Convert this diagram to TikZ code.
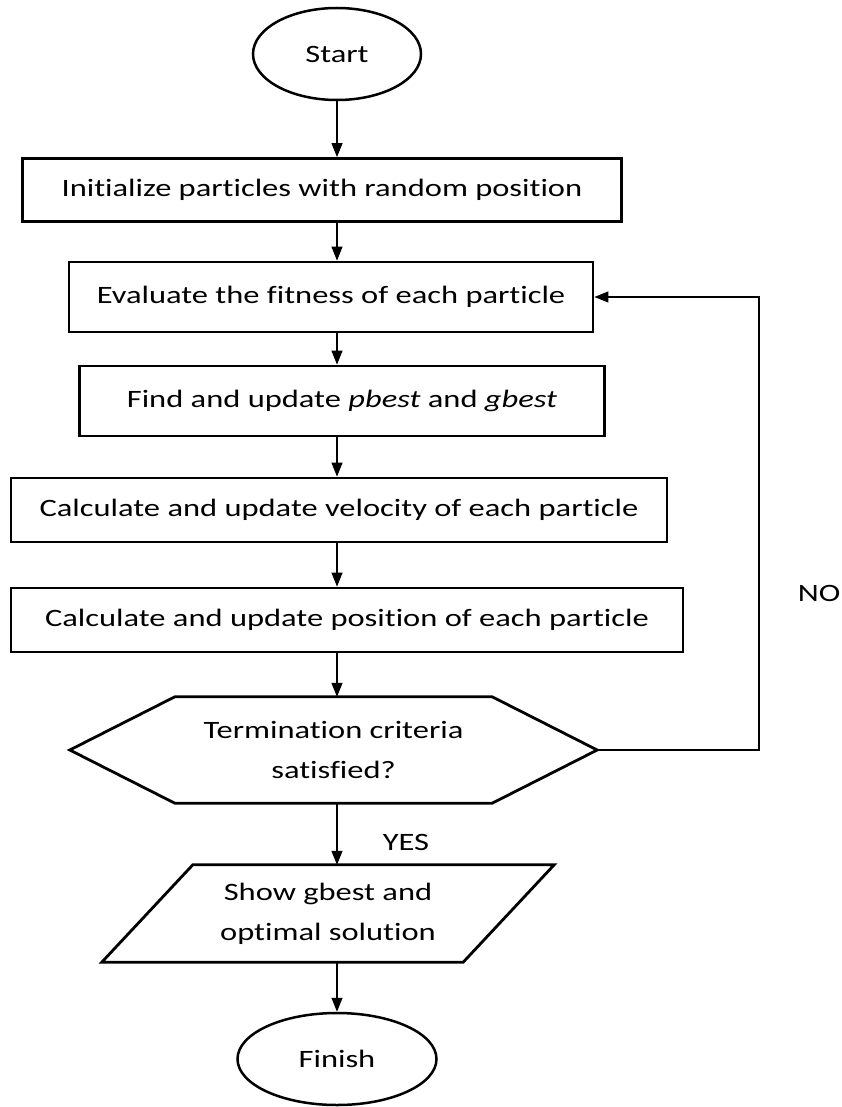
\documentclass[tikz,border=0pt]{standalone}
\usepackage{fontspec}
\setmainfont{Carlito}[FakeStretch=1.3,Ligatures=NoCommon]
\usetikzlibrary{arrows.meta,shapes.geometric}

\begin{document}
\begin{tikzpicture}[x=1pt,y=-1pt,font=\fontsize{25}{40}\selectfont]

	\tikzstyle process=[draw, line width=2.8pt, inner sep=0pt];
	\tikzstyle terminal=[draw, ellipse, line width=2.5pt, inner sep=0pt, minimum height=92pt];
	\tikzstyle flow line=[line width=1.2pt, -{Triangle[length=14pt,width=11pt]}];
	\tikzstyle outline=[line width=2.8pt, line join=miter];
	\tikzstyle two lines=[align=center, inner sep=0pt];

	\useasboundingbox (0,0) rectangle (842,1107);

	\node[terminal, minimum width=168pt] (start) at (337,54) {Start};

	\foreach \x/\y/\w/\h/\name/\txt in {322/190/599/63/init/{Initialize particles with random position},
			331/297/524/70/eval/{Evaluate the fitness of each particle},
			342/401/525/70/best/{Find and update \textit{pbest} and \textit{gbest}},
			339/510/656/64/vel/{Calculate and update velocity of each particle},
			347/620/672/64/pos/{Calculate and update position of each particle}}
		\node[process, minimum width=\w, minimum height=\h] (\name) at (\x,\y) {\txt};

	% decision
	\node[two lines, minimum width=317pt, minimum height=106pt] (check) at (333.5,750) {Termination criteria\\satisfied?};
	\coordinate (check tip) at ([xshift=105pt]check.east);
	\draw[outline] (check.north west) -- (check.north east) -- (check tip) -- (check.south east)
		-- (check.south west) -- ([xshift=-105pt]check.west) -- cycle;

	% output
	\node[two lines, minimum width=361pt, minimum height=97pt] (show) at (328,913.5) {Show gbest and\\optimal solution};
	\draw[outline] ([xshift=45.5pt]show.north west) -- ([xshift=45.5pt]show.north east)
		-- ([xshift=-45.5pt]show.south east) -- ([xshift=-45.5pt]show.south west) -- cycle;

	\node[terminal, minimum width=199pt] (finish) at (337,1059) {Finish};

	\foreach \a/\b in {start/init,init/eval,eval/best,best/vel,vel/pos,pos/check,check/show,show/finish}
		\draw[flow line] (\a.south -| start) -- (\b.north -| start);

	\coordinate (loop) at (759,297);
	\draw[flow line] (check tip) -| (loop) -- (eval.east);

	\node (no) at (819,593) {NO};
	\node (yes) at (406,842) {YES};

\end{tikzpicture}
\end{document}
